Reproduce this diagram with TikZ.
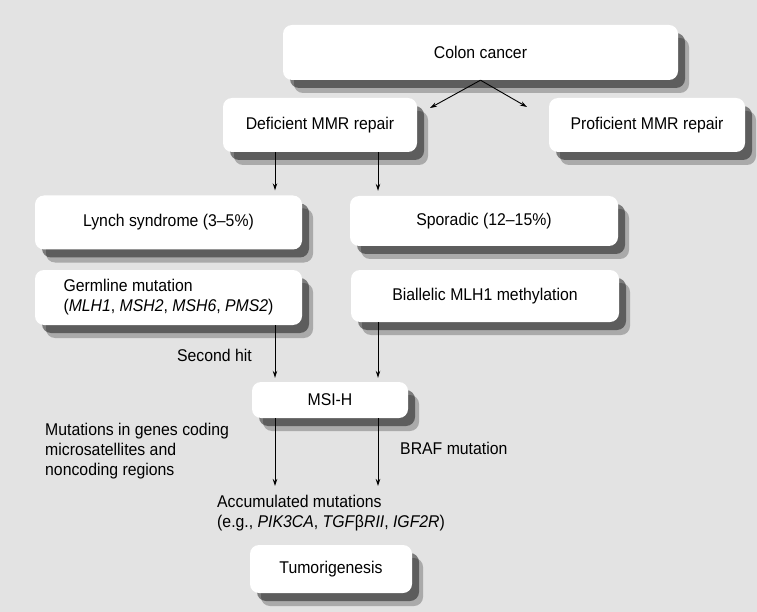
\documentclass[tikz,border=0pt]{standalone}
\usepackage{fontspec}
\setmainfont{Liberation Sans}[FakeStretch=0.93]
\usetikzlibrary{arrows.meta,shadows}
\begin{document}
\begin{tikzpicture}[x=1pt,y=-1pt,
  txt/.style={font=\fontsize{17}{20}\selectfont},
  box/.style={txt, fill=white, rounded corners=9pt, inner sep=0pt,
    general shadow={shadow xshift=11pt, shadow yshift=-13pt, fill=black, opacity=0.25},
    general shadow={shadow xshift=7pt, shadow yshift=-8pt, fill=black, opacity=0.45}},
  lbl/.style={txt, inner sep=0pt, align=left},
  arr/.style={-{Stealth[length=7pt,width=4.5pt]}, line width=0.9pt}]
\fill[gray!22] (0,0) rectangle (757,612);
\useasboundingbox (0,0) rectangle (757,612);

\node[box, minimum width=395pt, minimum height=55pt] (colon) at (480.5,52.5) {Colon cancer};
\node[box, minimum width=194pt, minimum height=54pt] (def) at (320,125) {Deficient MMR repair};
\node[box, minimum width=196pt, minimum height=54pt] (prof) at (647,125) {Proficient MMR repair};
\node[box, minimum width=267pt, minimum height=54pt] (lynch) at (168.5,222.5) {Lynch syndrome (3–5\%)};
\node[box, minimum width=268pt, minimum height=50pt] (spor) at (484,221) {Sporadic (12–15\%)};
\node[box, minimum width=267pt, minimum height=55pt, align=left] (germ) at (168.5,297.5)
  {Germline mutation\\(\textit{MLH1}, \textit{MSH2}, \textit{MSH6}, \textit{PMS2})};
\node[box, minimum width=268pt, minimum height=52pt] (bial) at (485,296) {Biallelic MLH1 methylation};
\node[box, minimum width=156pt, minimum height=36pt] (msi) at (330,400) {MSI-H};
\node[box, minimum width=162pt, minimum height=48pt] (tum) at (331,569) {Tumorigenesis};

\node[lbl, anchor=east] (second) at (252,355) {Second hit};
\node[lbl, anchor=west] (mut) at (45,451) {Mutations in genes coding\\microsatellites and\\noncoding regions};
\node[lbl, anchor=west] (braf) at (400,448) {BRAF mutation};
\node[lbl, anchor=west] (acc) at (217,513) {Accumulated mutations\\(e.g., \textit{PIK3CA}, \textit{TGF}{\upshape β}\textit{RII}, \textit{IGF2R})};

\coordinate (xl) at (275,0);
\coordinate (xr) at (378,0);
\coordinate (dl) at (430,108);
\coordinate (dr) at (527,107);
\coordinate (al) at (275,486);
\coordinate (ar) at (378,486);

\draw[arr] (colon.south) -- (dl);
\draw[arr] (colon.south) -- (dr);
\draw[arr, shorten >=5pt] (def.south -| xl) -- (lynch.north -| xl);
\draw[arr, shorten >=5pt] (def.south -| xr) -- (spor.north -| xr);
\draw[arr, shorten >=4pt] (germ.south -| xl) -- (msi.north -| xl);
\draw[arr, shorten >=4pt] (bial.south -| xr) -- (msi.north -| xr);
\draw[arr] (msi.south -| xl) -- (al);
\draw[arr] (msi.south -| xr) -- (ar);
\end{tikzpicture}
\end{document}
